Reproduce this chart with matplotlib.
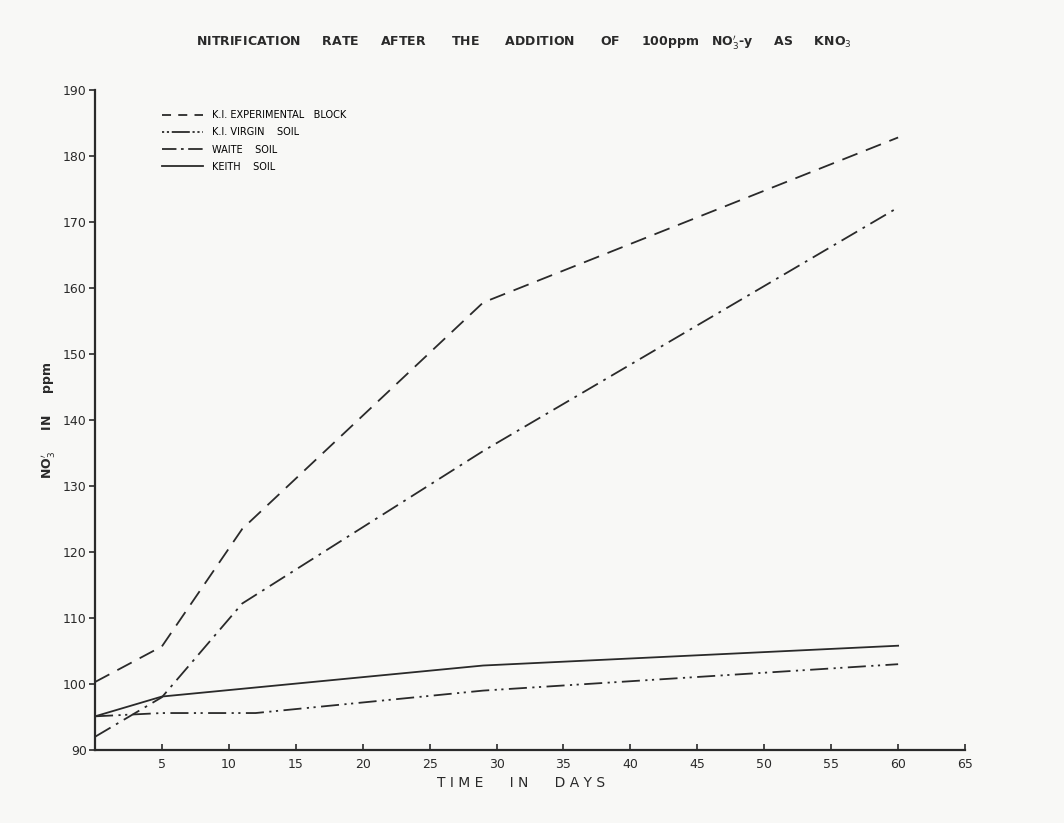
import matplotlib
matplotlib.use("Agg")
import matplotlib.pyplot as plt
from matplotlib.lines import Line2D

# Data
exp_days = [0, 5, 11, 29, 60]
exp_no3 = [100.3, 105.7, 123.5, 157.8, 182.8]

virgin_days = [0, 5, 12, 29, 60]
virgin_no3 = [95.1, 95.6, 95.6, 99.0, 103.0]

waite_days = [0, 5, 11, 29, 60]
waite_no3 = [92.0, 98.0, 112.2, 135.3, 172.2]

keith_days = [0, 5, 29, 60]
keith_no3 = [95.1, 98.1, 102.8, 105.8]

x_ticks = list(range(5, 70, 5))
y_ticks = list(range(90, 200, 10))

labels = ["K.I. EXPERIMENTAL   BLOCK", "K.I. VIRGIN    SOIL", "WAITE    SOIL", "KEITH    SOIL"]

bg = "#f8f8f6"
fig = plt.figure(figsize=(10.64, 8.23), dpi=100, facecolor=bg)
ax = fig.add_axes([0.0893, 0.0887, 0.8177, 0.802])
ax.set_facecolor(bg)

lw = 1.3
c = "#2a2a2a"
ax.plot(exp_days, exp_no3, color=c, lw=lw, dashes=(9, 5))
ax.plot(virgin_days, virgin_no3, color=c, lw=lw, dashes=(10, 3, 1.2, 2.5, 1.2, 3))
ax.plot(waite_days, waite_no3, color=c, lw=lw, dashes=(10, 3.5, 1.5, 3.5))
ax.plot(keith_days, keith_no3, color=c, lw=lw)

ax.set_xlim(0, 65)
ax.set_ylim(90, 190)
ax.set_xticks(x_ticks)
ax.set_yticks(y_ticks)
ax.set_xticklabels([str(v) for v in x_ticks], fontsize=9)
ax.set_yticklabels([str(v) for v in y_ticks], fontsize=9)
ax.tick_params(axis="x", direction="in", length=4, width=1.2, pad=6, colors=c)
ax.tick_params(axis="y", direction="out", length=4, width=1.2, pad=2, colors=c)
for s in ["top", "right"]:
    ax.spines[s].set_visible(False)
for s in ["left", "bottom"]:
    ax.spines[s].set_linewidth(1.6)
    ax.spines[s].set_color(c)

handles = [
    Line2D([], [], color=c, lw=lw, dashes=(5, 4)),
    Line2D([], [], color=c, lw=lw, dashes=(1.2, 1.5, 1.2, 1.5, 10, 1.5, 1.2, 1.5)),
    Line2D([], [], color=c, lw=lw, dashes=(8, 2.5, 1.5, 2.5)),
    Line2D([], [], color=c, lw=lw),
]
ax.legend(handles, labels, loc="upper left", bbox_to_anchor=(162 / 1064, 1 - 110 / 823),
          bbox_transform=fig.transFigure, borderaxespad=0, borderpad=0,
          frameon=False, fontsize=7, handlelength=4.2, handletextpad=0.9,
          labelspacing=0.75)

fig.text(0.492, 0.949,
         "NITRIFICATION     RATE     AFTER      THE      ADDITION      OF     100ppm   NO$_3^{\\prime}$-y     AS     KNO$_3$",
         ha="center", va="center", fontsize=9, fontweight="bold", color=c)
fig.text(0.49, 0.048, "T I M E      I N      D A Y S", ha="center", va="center",
         fontsize=10, color=c)
fig.text(0.045, 0.49, "NO$_3^{\\prime}$     IN     ppm", ha="center", va="center",
         rotation=90, fontsize=9, fontweight="bold", color=c)

fig.savefig("out.png", dpi=100, facecolor=fig.get_facecolor())
